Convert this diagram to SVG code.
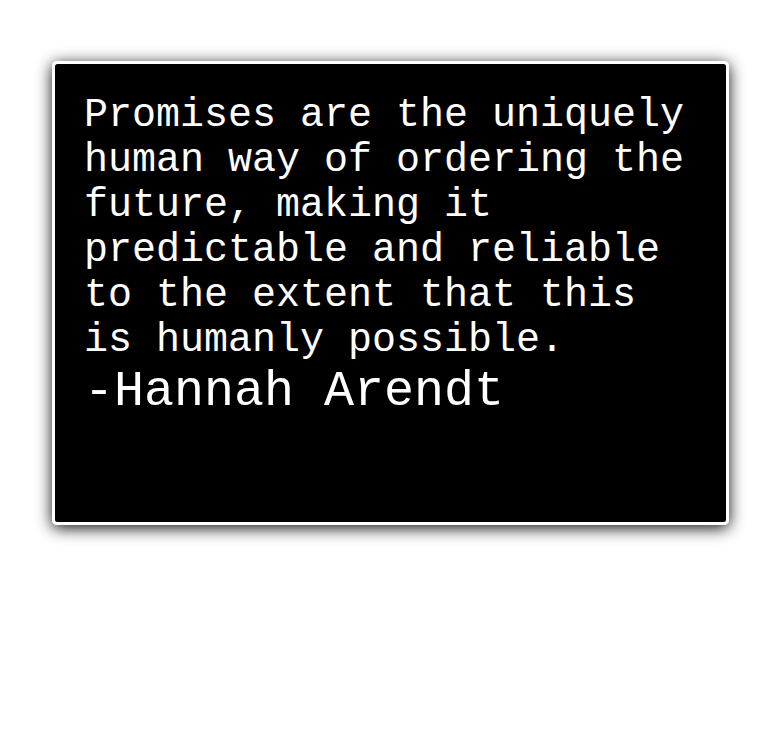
<svg xmlns="http://www.w3.org/2000/svg" width="780" height="740" viewBox="0 0 780 740">
  <defs>
    <filter id="shadow" x="-10%" y="-12%" width="120%" height="128%">
      <feDropShadow dx="0" dy="3" stdDeviation="8" flood-color="#000" flood-opacity="0.95"/>
    </filter>
    <style>
      .quote { font-family: "Liberation Mono", "DejaVu Sans Mono", monospace; font-size: 40px; fill: #ffffff; }
      .author { font-family: "Liberation Mono", "DejaVu Sans Mono", monospace; font-size: 50px; fill: #ffffff; }
    </style>
  </defs>
  <rect width="780" height="740" fill="#ffffff"/>
  <g id="card">
    <rect x="53.5" y="62.5" width="674" height="461" rx="4" ry="4" fill="#000000" stroke="#ffffff" stroke-width="3" filter="url(#shadow)"/>
    <text class="quote" x="84" y="126">Promises are the uniquely</text>
    <text class="quote" x="84" y="171">human way of ordering the</text>
    <text class="quote" x="84" y="216">future, making it</text>
    <text class="quote" x="84" y="261">predictable and reliable</text>
    <text class="quote" x="84" y="306">to the extent that this</text>
    <text class="quote" x="84" y="351">is humanly possible.</text>
    <text class="author" x="84" y="405">-Hannah Arendt</text>
  </g>
</svg>
